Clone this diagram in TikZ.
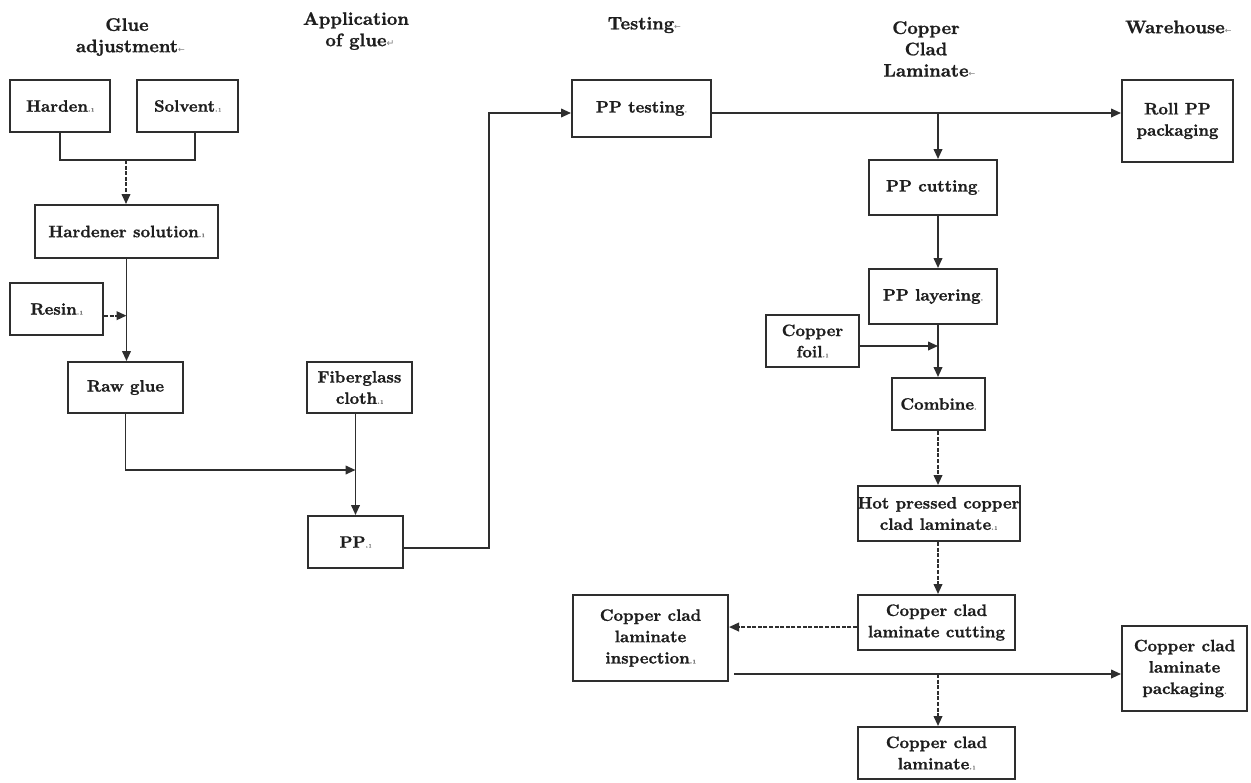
\documentclass[tikz,border=0pt]{standalone}
\usepackage{fontspec}
\newfontfamily\symfont{DejaVu Sans}
\newfontface\boxfont{lmroman10-bold.otf}[FakeBold=1.1]
\usetikzlibrary{arrows.meta}
\definecolor{ink}{HTML}{1E1E1E}
\definecolor{wire}{HTML}{2E2E2E}
% small editing marks that follow some of the labels
\newcommand\parmk{{\fontsize{6}{6}\selectfont\color{gray}.\kern0.6pt\i}}
\newcommand\dotmk{{\fontsize{6}{6}\selectfont\color{gray}.}}
\newcommand\larr{{\symfont\fontsize{6}{6}\selectfont\color{gray}←}}
\newcommand\retarr{{\symfont\fontsize{7}{7}\selectfont\color{gray}↵}}

\begin{document}
\begin{tikzpicture}[x=0.75pt,y=-0.75pt,
  every node/.style={font=\boxfont\fontsize{12.4}{16}\selectfont, text=ink},
  box/.style 2 args={draw=wire, line width=1.5pt, inner sep=0pt, align=center,
    minimum width=#1*0.75pt, minimum height=#2*0.75pt},
  head/.style={align=center, inner sep=0pt, font=\boxfont\fontsize{13.6}{16}\selectfont},
  flow/.style={draw=wire, line width=1.3pt},
  arr/.style={flow, -{Triangle[length=7.5pt,width=6.5pt]}},
  darr/.style={arr, dash pattern=on 3pt off 1.2pt},
]
\useasboundingbox (0,0) rectangle (1251,782);
\fill[white] (0,0) rectangle (1251,782);

% column headings
\node[head] (h1) at (127,37) {Glue\\adjustment\rlap{\larr}};
\node[head] (h2) at (356,31) {Application\\of glue\rlap{\retarr}};
\node[head] (h3) at (641,25) {Testing\rlap{\larr}};
\node[head] (h4) at (926,49) {Copper\\Clad\\Laminate\rlap{\larr}};
\node[head] (h5) at (1175,27) {Warehouse\rlap{\larr}};

% process boxes
\node[box={100}{52}]  (harden) at (60,106)     {Harden\parmk};
\node[box={101}{52}]  (solvent) at (187.5,106) {Solvent\parmk};
\node[box={183}{53}]  (hsol) at (126.5,231.5)  {Hardener solution\parmk};
\node[box={93}{52}]   (resin) at (56.5,309)    {Resin\parmk};
\node[box={115}{51}]  (raw) at (125.5,387.5)   {Raw glue};
\node[box={105}{51}]  (fib) at (359.5,387.5)   {Fiberglass\\cloth\parmk};
\node[box={95}{52}]   (pp) at (355.5,542)      {PP\parmk};
\node[box={139}{57}]  (ppt) at (641.5,108.5)   {PP testing\dotmk};
\node[box={111}{82}]  (roll) at (1177.5,121)   {Roll PP\\packaging};
\node[box={128}{55}]  (cut) at (933,187.5)     {PP cutting\dotmk};
\node[box={128}{55}]  (layer) at (933,296.5)   {PP layering\dotmk};
\node[box={93}{52}]   (foil) at (812.5,341)    {Copper\\foil\parmk};
\node[box={93}{52}]   (comb) at (938.5,404)    {Combine\dotmk};
\node[box={161}{55}]  (hot) at (938.5,513.5)   {Hot pressed copper\\clad laminate\parmk};
\node[box={157}{55}]  (ccut) at (936.5,622.5)  {Copper clad\\laminate cutting};
\node[box={155}{86}]  (insp) at (650.5,638)    {Copper clad\\laminate\\inspection\parmk};
\node[box={125}{85}]  (pack) at (1184.5,668.5) {Copper clad\\laminate\\packaging\dotmk};
\node[box={157}{52}]  (ccl) at (936.5,753)     {Copper clad\\laminate\parmk};

% glue adjustment
\coordinate (jm) at (126,160);
\draw[flow] (harden.south) |- (jm);
\draw[flow] ([xshift=5.6pt]solvent.south) |- (jm);
\draw[darr] (jm) -- (hsol.north -| jm);
\draw[arr] (hsol.south) -- (hsol.south |- raw.north);
\draw[darr] ([yshift=-5pt]resin.east) -- ([yshift=-5pt]resin.east -| hsol.south);

% application of glue
\coordinate (jp) at (355.5,470);
\draw[arr] (raw.south) |- (jp);
\draw[arr] (fib.south -| pp.north) -- (pp.north);

% testing
\coordinate (bend) at (489,113);
\draw[arr] ([yshift=-4.5pt]pp.east) -| (bend) -- (bend -| ppt.west);
\coordinate (jt) at (938,113);
\draw[flow, line width=0.9pt] (bend -| ppt.east) -- (jt);
\draw[arr] (jt) -- (bend -| roll.west);

% copper clad laminate
\draw[arr] (jt) -- (jt |- cut.north);
\draw[arr] (cut.south -| jt) -- (layer.north -| jt);
\draw[arr] (layer.south -| jt) -- (comb.north -| jt);
\draw[arr] ([yshift=-3.75pt]foil.east) -- ([yshift=-3.75pt]foil.east -| jt);
\draw[darr] (comb.south -| jt) -- (hot.north -| jt);
\draw[darr] (hot.south -| jt) -- (ccut.north -| jt);
\draw[darr] ([yshift=-3.4pt]ccut.west) -- ([yshift=-3.4pt]ccut.west -| insp.east);
\coordinate (jb) at (938,674);
\draw[arr] ([xshift=3.75pt]jb -| insp.east) -- (jb -| pack.west);
\draw[darr] (jb) -- (jb |- ccl.north);
\end{tikzpicture}
\end{document}
